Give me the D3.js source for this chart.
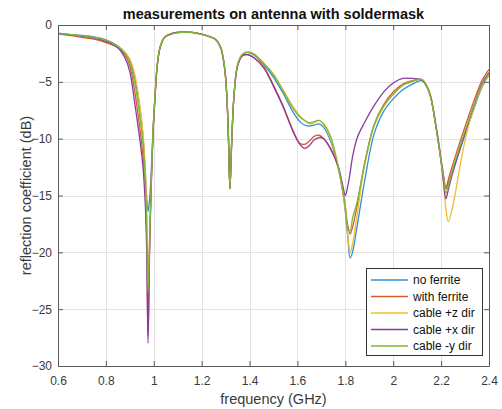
<!DOCTYPE html>
<html>
<head>
<meta charset="utf-8">
<script src="https://cdn.jsdelivr.net/npm/d3@7"></script>
<style>
  html, body { margin: 0; padding: 0; background: #fff; }
  svg { display: block; font-family: "Liberation Sans", Arial, Helvetica, sans-serif; }
</style>
</head>
<body>
<svg id="chart" width="502" height="409"></svg>
<script>
// ---------------- data ----------------
const freq = [
  0.60, 0.65, 0.70, 0.75, 0.80,
  0.85, 0.88, 0.90, 0.92, 0.94,
  0.955, 0.965, 0.970, 0.976, 0.982,
  0.988, 0.997, 1.005, 1.015, 1.027,
  1.045, 1.08, 1.12, 1.16, 1.20,
  1.23, 1.26, 1.28, 1.29, 1.30,
  1.31, 1.318, 1.325, 1.335, 1.35,
  1.37, 1.39, 1.42, 1.46, 1.50,
  1.54, 1.58, 1.61, 1.63, 1.65,
  1.67, 1.69, 1.71, 1.74, 1.77,
  1.79, 1.80, 1.81, 1.82, 1.83,
  1.85, 1.88, 1.92, 1.96, 2.00,
  2.04, 2.08, 2.12, 2.15, 2.18,
  2.20, 2.21, 2.22, 2.23, 2.25,
  2.28, 2.31, 2.34, 2.37, 2.40
];

const noFerrite = [
  -0.72, -0.82, -0.92, -1.05, -1.30,
  -1.85, -2.45, -3.10, -4.60, -7.00,
  -9.80, -13.0, -15.0, -16.4, -15.5,
  -13.5, -9.30, -6.30, -3.40, -1.90,
  -1.10, -0.75, -0.65, -0.66, -0.82,
  -1.02, -1.30, -2.00, -2.90, -4.60,
  -8.60, -14.3, -10.5, -6.20, -3.50,
  -2.60, -2.40, -2.65, -3.50, -4.60,
  -6.00, -7.60, -8.50, -8.80, -8.90,
  -8.80, -8.70, -9.00, -10.3, -12.6,
  -14.8, -16.4, -18.6, -20.5, -20.0,
  -17.6, -13.8, -9.60, -7.60, -6.50,
  -5.70, -5.20, -4.90, -5.90, -9.20,
  -12.0, -13.3, -14.4, -13.9, -12.7,
  -10.9, -9.00, -7.20, -5.50, -4.40
];

const withFerrite = [
  -0.78, -0.92, -1.08, -1.25, -1.55,
  -2.00, -2.65, -3.60, -5.80, -8.80,
  -11.5, -14.5, -18.0, -27.3, -20.0,
  -15.0, -9.40, -6.40, -3.50, -1.95,
  -1.10, -0.72, -0.63, -0.65, -0.80,
  -1.00, -1.32, -2.05, -3.00, -4.70,
  -8.70, -14.4, -10.5, -6.20, -3.60,
  -2.70, -2.60, -2.90, -3.70, -5.30,
  -7.10, -9.20, -10.4, -10.5, -10.2,
  -9.80, -9.70, -10.0, -10.9, -12.5,
  -14.6, -16.0, -17.6, -18.4, -17.8,
  -15.8, -12.2, -8.80, -7.00, -5.90,
  -5.20, -4.90, -4.80, -5.80, -9.00,
  -11.8, -13.2, -14.4, -13.6, -12.2,
  -10.2, -8.30, -6.50, -4.90, -3.90
];

const cableZ = [
  -0.75, -0.85, -0.97, -1.12, -1.40,
  -1.85, -2.40, -3.00, -4.30, -6.80,
  -9.50, -13.0, -16.0, -22.0, -19.0,
  -14.8, -9.20, -6.20, -3.30, -1.85,
  -1.05, -0.72, -0.63, -0.65, -0.80,
  -1.00, -1.30, -2.00, -2.90, -4.50,
  -8.50, -14.4, -10.5, -6.20, -3.50,
  -2.55, -2.35, -2.55, -3.35, -4.30,
  -5.70, -7.10, -8.00, -8.40, -8.70,
  -8.60, -8.40, -8.80, -10.1, -12.5,
  -14.7, -16.3, -18.4, -20.0, -19.3,
  -16.6, -12.4, -8.90, -7.20, -6.10,
  -5.30, -4.95, -4.80, -5.80, -9.10,
  -12.0, -13.8, -16.2, -17.3, -15.8,
  -12.3, -9.20, -7.10, -5.40, -4.40
];

const cableX = [
  -0.76, -0.88, -1.00, -1.15, -1.45,
  -2.00, -2.90, -4.10, -6.80, -9.80,
  -12.5, -16.0, -19.5, -28.0, -20.5,
  -15.2, -9.50, -6.40, -3.50, -1.95,
  -1.10, -0.72, -0.63, -0.65, -0.80,
  -1.00, -1.30, -2.00, -2.95, -4.60,
  -8.60, -14.4, -10.6, -6.30, -3.60,
  -2.70, -2.60, -2.90, -3.80, -5.40,
  -7.20, -9.30, -10.5, -10.85, -10.6,
  -10.1, -9.90, -10.0, -11.0, -12.4,
  -14.2, -15.0, -14.2, -13.0, -11.6,
  -9.90, -8.60, -7.10, -5.90, -5.10,
  -4.70, -4.70, -4.85, -5.90, -9.10,
  -12.0, -13.8, -15.3, -14.5, -12.9,
  -10.8, -8.80, -6.90, -5.20, -4.20
];

const cableY = [
  -0.75, -0.85, -0.95, -1.10, -1.30,
  -1.90, -2.50, -3.30, -5.00, -7.80,
  -10.5, -14.0, -17.0, -23.5, -19.5,
  -15.0, -9.30, -6.30, -3.40, -1.90,
  -1.10, -0.75, -0.65, -0.65, -0.80,
  -1.00, -1.30, -2.00, -2.90, -4.60,
  -8.60, -14.4, -10.5, -6.20, -3.50,
  -2.60, -2.40, -2.60, -3.40, -4.40,
  -5.80, -7.30, -8.10, -8.40, -8.60,
  -8.50, -8.40, -8.70, -9.90, -12.4,
  -14.6, -16.0, -18.0, -18.1, -17.0,
  -15.5, -12.3, -8.80, -7.10, -6.10,
  -5.30, -4.95, -4.80, -5.90, -9.20,
  -12.0, -13.4, -14.8, -14.2, -12.6,
  -10.6, -8.70, -6.90, -5.30, -4.30
];

const seriesNames = ["no ferrite", "with ferrite", "cable +z dir", "cable +x dir", "cable -y dir"];
const seriesValues = [noFerrite, withFerrite, cableZ, cableX, cableY];
const seriesColors = ["#2f8fd6", "#dc5a2e", "#f0bd2f", "#8a3a9e", "#7fb73a"];

const xTicks = [0.6, 0.8, 1.0, 1.2, 1.4, 1.6, 1.8, 2.0, 2.2, 2.4];
const xTickLabels = ["0.6", "0.8", "1", "1.2", "1.4", "1.6", "1.8", "2", "2.2", "2.4"];
const yTicks = [0, -5, -10, -15, -20, -25, -30];

const titleText = "measurements on antenna with soldermask";
const xLabelText = "frequency (GHz)";
const yLabelText = "reflection coefficient (dB)";

// ---------------- layout ----------------
const L = 58, R = 489, T = 25, B = 366;
const svg = d3.select("#chart");

const x = d3.scaleLinear().domain([0.6, 2.4]).range([L, R]);
const y = d3.scaleLinear().domain([-30, 0]).range([B, T]);

// grid
const grid = svg.append("g").attr("stroke", "#e3e3e3").attr("stroke-width", 1);
grid.selectAll(".gx").data(xTicks.slice(1, -1)).join("line")
  .attr("x1", d => Math.round(x(d)) + 0.5).attr("x2", d => Math.round(x(d)) + 0.5)
  .attr("y1", T).attr("y2", B);
grid.selectAll(".gy").data(yTicks.slice(1, -1)).join("line")
  .attr("y1", d => Math.round(y(d)) + 0.5).attr("y2", d => Math.round(y(d)) + 0.5)
  .attr("x1", L).attr("x2", R);

// series lines
const line = d3.line()
  .x((d, i) => x(freq[i]))
  .y(d => y(d))
  .curve(d3.curveCatmullRom.alpha(0.5));

const clip = svg.append("clipPath").attr("id", "plotclip")
  .append("rect").attr("x", L).attr("y", T).attr("width", R - L).attr("height", B - T);

svg.append("g").attr("clip-path", "url(#plotclip)")
  .selectAll("path").data(seriesValues).join("path")
  .attr("d", d => line(d))
  .attr("fill", "none")
  .attr("stroke", (d, i) => seriesColors[i])
  .attr("stroke-width", 1.3)
  .attr("stroke-linejoin", "round");

// axes
const axisColor = "#5a5a5a";
const fmtX = d => xTickLabels[xTicks.indexOf(d)];

const gx = svg.append("g").attr("transform", `translate(0,${B})`)
  .call(d3.axisBottom(x).tickValues(xTicks).tickFormat(fmtX).tickSize(-5).tickSizeOuter(0).tickPadding(10));
const gxt = svg.append("g").attr("transform", `translate(0,${T})`)
  .call(d3.axisTop(x).tickValues(xTicks).tickFormat("").tickSize(-5).tickSizeOuter(0));
const gy = svg.append("g").attr("transform", `translate(${L},0)`)
  .call(d3.axisLeft(y).tickValues(yTicks).tickSize(-5).tickSizeOuter(0).tickPadding(6));
const gyr = svg.append("g").attr("transform", `translate(${R},0)`)
  .call(d3.axisRight(y).tickValues(yTicks).tickFormat("").tickSize(-5).tickSizeOuter(0));

[gx, gxt, gy, gyr].forEach(g => {
  g.select(".domain").attr("stroke", axisColor);
  g.selectAll(".tick line").attr("stroke", axisColor);
  g.selectAll(".tick text").attr("fill", "#3a3a3a").attr("font-size", 12)
    .attr("font-family", "'Liberation Sans', Arial, sans-serif");
});

// title & labels
svg.append("text").attr("x", (L + R) / 2).attr("y", 19)
  .attr("text-anchor", "middle").attr("font-weight", "bold").attr("font-size", 14.5)
  .attr("fill", "#111").text(titleText);

svg.append("text").attr("x", (L + R) / 2).attr("y", 404)
  .attr("text-anchor", "middle").attr("font-size", 14.5).attr("fill", "#3a3a3a")
  .text(xLabelText);

svg.append("text").attr("transform", `translate(31,${(T + B) / 2}) rotate(-90)`)
  .attr("text-anchor", "middle").attr("font-size", 14.5).attr("fill", "#3a3a3a")
  .text(yLabelText);

// legend
const lg = svg.append("g");
lg.append("rect").attr("x", 366.5).attr("y", 268.5).attr("width", 116).attr("height", 87)
  .attr("fill", "#fff").attr("stroke", "#333").attr("stroke-width", 1);
const items = lg.selectAll(".item").data(seriesNames).join("g")
  .attr("transform", (d, i) => `translate(0,${280 + i * 16.5})`);
items.append("line").attr("x1", 371).attr("x2", 408).attr("y1", 0).attr("y2", 0)
  .attr("stroke", (d, i) => seriesColors[i]).attr("stroke-width", 1.3);
items.append("text").attr("x", 413).attr("y", 0).attr("dy", "0.35em")
  .attr("font-size", 12).attr("fill", "#111").text(d => d);
</script>
</body>
</html>
